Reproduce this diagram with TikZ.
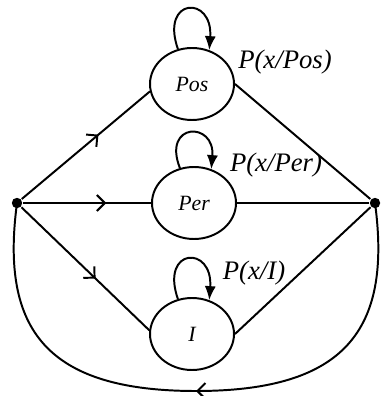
\documentclass[tikz,border=0pt]{standalone}
\usepackage{fontspec}
\setmainfont{Liberation Serif}
\usetikzlibrary{shapes.geometric, arrows.meta, decorations.markings}

\tikzset{
  state/.style={draw, ellipse, line width=1.4pt, inner sep=0pt, minimum width=21mm, minimum height=18mm, font=\fontsize{15.5}{18}\selectfont\itshape},
  junction/.style={circle, fill, inner sep=0pt, minimum size=2.6mm},
  prob/.style={font=\fontsize{19}{22}\selectfont\itshape},
  selfloop/.style={line width=1.4pt, -{Latex[length=3.5mm, width=2.8mm]}},
  midbarb/.style={decoration={markings, mark=at position #1 with {\arrow{Straight Barb[length=2mm, width=4mm, line width=1.4pt]}}}, postaction={decorate}}
}

\begin{document}
\begin{tikzpicture}[x=0.25mm, y=-0.25mm, line width=1.4pt]
\useasboundingbox (0,0) rectangle (381,396);
\node[junction] (L) at (17,203) {};
\node[junction] (R) at (375,203) {};
\node[state] (pos) at (192,84) {Pos};
\node[state] (per) at (194,203) {Per};
\node[state] (ii) at (192,334) {I};
\coordinate (bot) at (196,391);
% self loops
\draw[selfloop] (pos.112) .. controls +(-18,-52) and +(4,-55) .. (pos.63);
\draw[selfloop] (per.112) .. controls +(-18,-46) and +(4,-48) .. (per.63);
\draw[selfloop] (ii.112) .. controls +(-18,-52) and +(4,-55) .. (ii.63);
\node[prob] at (285,62) {P(x/Pos)};
\node[prob] at (276,165) {P(x/Per)};
\node[prob] at (254,273) {P(x/I)};
% branches
\draw[midbarb=0.6] (L) -- (pos.190);
\draw[midbarb=0.65] (L) -- (per);
\draw[midbarb=0.58] (L) -- (ii.175);
\draw (pos.east) -- (R);
\draw (per) -- (R);
\draw (ii.east) -- (R);
% return arc
\draw[midbarb=0.5] (R.center) .. controls (392,330) and (345,391) .. (bot)
  .. controls (47,391) and (0,330) .. (L.center);
\end{tikzpicture}
\end{document}
